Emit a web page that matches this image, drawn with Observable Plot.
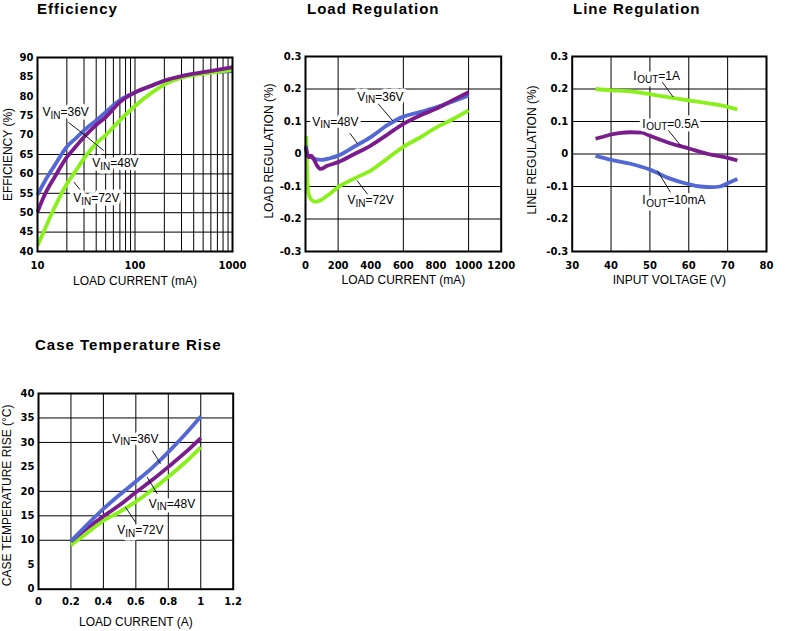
<!DOCTYPE html>
<html><head><meta charset="utf-8">
<script src="https://cdn.jsdelivr.net/npm/d3@7"></script>
<script src="https://cdn.jsdelivr.net/npm/@observablehq/plot@0.6"></script>
<style>
body{margin:0;background:#fff;}
#wrap{position:relative;width:800px;height:631px;overflow:hidden;background:#fff;}
.title{position:absolute;font-family:"Liberation Sans",Arial,sans-serif;font-weight:bold;font-size:15px;letter-spacing:1px;line-height:17px;white-space:nowrap;color:#000;}
.panel{position:absolute;}
.panel svg{display:block;max-width:none;}
</style></head><body>
<div id="wrap">
<div class="title" style="left:37px;top:0px">Efficiency</div>
<div class="title" style="left:307px;top:0px">Load Regulation</div>
<div class="title" style="left:573px;top:0px">Line Regulation</div>
<div class="title" style="left:35px;top:336px">Case Temperature Rise</div>
<div class="panel" id="p1" style="left:0px;top:30px"></div>
<div class="panel" id="p2" style="left:260px;top:30px"></div>
<div class="panel" id="p3" style="left:520px;top:30px"></div>
<div class="panel" id="p4" style="left:0px;top:360px"></div>
</div>
<script>
// ---------- DATA ----------
// Efficiency (%), load current (mA, log)
const effCurrent = [10,12,15,20,25,30,40,50,70,100,150,200,300,500,700,1000];
const eff36 = [54.6,58.3,62.2,67,69.3,71.2,73.8,75.9,79,81,82.8,84,85,86,86.3,86.5];
const eff48 = [50.2,54.9,59.2,64.3,67.2,69.5,72.6,74.6,78.5,81,82.8,84,85.2,86.2,86.8,87.5];
const eff72 = [41.5,46,51.4,57.4,61,64,67.8,70,73.8,77.5,81,83,84.8,85.8,86.3,86.8];
const effYTicks = [40,45,50,55,60,65,70,75,80,85,90];
const effXTicks = [10,100,1000];
const effGridX = [20,30,40,50,60,70,80,90,100,200,300,400,500,600,700,800,900];
const effGridY = [45,50,55,60,65];

// Load regulation (%), load current (mA)
const load36X = [2,10,30,60,100,150,200,300,400,500,600,700,800,900,1000];
const load36 = [0.026,0.0,-0.008,-0.016,-0.018,-0.013,-0.005,0.023,0.052,0.088,0.115,0.129,0.144,0.161,0.18];
const load48X = [2,10,20,35,50,70,92,130,200,300,400,500,600,700,800,900,1000];
const load48 = [0.02,0.0,-0.01,-0.005,-0.015,-0.035,-0.046,-0.037,-0.025,0.0,0.026,0.059,0.093,0.118,0.139,0.165,0.19];
const load72X = [5,8,12,20,35,60,90,150,200,300,400,500,600,700,800,900,1000];
const load72 = [0.055,-0.02,-0.09,-0.125,-0.14,-0.147,-0.143,-0.122,-0.102,-0.075,-0.051,-0.015,0.022,0.05,0.081,0.106,0.134];
const regYTicks = [-0.3,-0.2,-0.1,0,0.1,0.2,0.3];
const loadXTicks = [0,200,400,600,800,1000,1200];
const loadGridX = [200,600,1000];
const loadGridY = [-0.2,-0.1,0.1,0.2];

// Line regulation (%), input voltage (V)
const line1AX = [36,40,45,50,55,60,65,70,72.5];
const line1A = [0.2,0.196,0.193,0.184,0.174,0.165,0.156,0.145,0.137];
const line05AX = [36,38,40,42,45,48,50,55,60,65,70,72.5];
const line05A = [0.047,0.053,0.06,0.064,0.067,0.066,0.056,0.034,0.017,0.0,-0.012,-0.02];
const line10mAX = [36,40,45,50,55,60,63,66,68,70,72.5];
const line10mA = [-0.006,-0.018,-0.03,-0.048,-0.075,-0.093,-0.1,-0.102,-0.1,-0.09,-0.077];
const lineXTicks = [30,40,50,60,70,80];
const lineGridX = [40,50,60,70];
const lineGridY = [-0.1,0,0.1,0.2];

// Case temperature rise (°C), load current (A)
const tempCurrent = [0.2,0.3,0.4,0.5,0.6,0.7,0.8,0.9,1.0];
const temp36 = [9.8,13.2,16.4,19.3,22,24.8,28,31.5,35.3];
const temp48 = [9.8,12.5,14.9,17.2,19.8,22.3,25,27.8,30.9];
const temp72 = [9,11.5,14,15.8,17.9,20.3,23,25.8,29];
const tempYTicks = [0,5,10,15,20,25,30,35,40];
const tempXTicks = [0,0.2,0.4,0.6,0.8,1.0,1.2];
const tempGridX = [0.2,0.4,0.6,0.8,1.0];
const tempGridY = [10,15,20,30,35];

// Annotation anchors (data coordinates)
const effLabels = [
  {x:11.25,y:75.8,main:"V",sub:"IN",rest:"=36V"},
  {x:36.4,y:62.7,main:"V",sub:"IN",rest:"=48V"},
  {x:23.2,y:53.7,main:"V",sub:"IN",rest:"=72V"}];
const effLeaders = [
  {x1:20.7,y1:73.3,x2:30.5,y2:70.0},
  {x1:30.5,y1:70.0,x2:47.8,y2:66.0},
  {x1:23.6,y1:57.9,x2:28.7,y2:55.3}];
const loadLabels = [
  {x:317,y:0.175,main:"V",sub:"IN",rest:"=36V"},
  {x:41,y:0.098,main:"V",sub:"IN",rest:"=48V"},
  {x:257,y:-0.143,main:"V",sub:"IN",rest:"=72V"}];
const loadLeaders = [
  {x1:443,y1:0.156,x2:535,y2:0.102},
  {x1:272,y1:0.064,x2:317,y2:0.033},
  {x1:317,y1:-0.082,x2:382,y2:-0.125}];
const lineLabels = [
  {x:45.7,y:0.238,main:"I",sub:"OUT",rest:"=1A"},
  {x:48.0,y:0.093,main:"I",sub:"OUT",rest:"=0.5A"},
  {x:48.0,y:-0.143,main:"I",sub:"OUT",rest:"=10mA"}];
const lineLeaders = [
  {x1:53.2,y1:0.221,x2:56.0,y2:0.175},
  {x1:54.4,y1:0.078,x2:57.9,y2:0.026},
  {x1:51.9,y1:-0.051,x2:55.3,y2:-0.118}];
const tempLabels = [
  {x:0.454,y:30.76,main:"V",sub:"IN",rest:"=36V"},
  {x:0.680,y:17.46,main:"V",sub:"IN",rest:"=48V"},
  {x:0.485,y:12.0,main:"V",sub:"IN",rest:"=72V"}];
const tempLeaders = [
  {x1:0.701,y1:28.36,x2:0.752,y2:25.64},
  {x1:0.670,y1:22.9,x2:0.732,y2:19.5},
  {x1:0.536,y1:16.77,x2:0.598,y2:13.7}];

// ---------- STYLE ----------
const C_BLUE = "#5468d4", C_PURPLE = "#7b1c8d", C_GREEN = "#8af01c";
const fontAxis = "'Liberation Sans', Arial, sans-serif";
const fontTick = "'DejaVu Sans', sans-serif";
const regFmt = d => d === 0 ? "0" : d.toFixed(1);

function rows(xs, ys) { return xs.map((x, i) => ({x, y: ys[i]})); }
function curves(list, curve) {
  return list.map(([xs, ys, color]) => Plot.line(rows(xs, ys), {x: "x", y: "y", stroke: color, strokeWidth: 3.8, curve: curve || "monotone-x", strokeLinecap: "butt"}));
}
function grids(gx, gy) {
  return [
    Plot.gridX(gx, {stroke: "black", strokeOpacity: 1, strokeWidth: 1}),
    Plot.gridY(gy, {stroke: "black", strokeOpacity: 1, strokeWidth: 1})
  ];
}
function axes(xt, yt, xf, yf, xPad) {
  return [
    Plot.axisX(xt, {tickSize: 0, tickPadding: xPad, tickFormat: xf, fontSize: 10, fontWeight: "bold", fontFamily: fontTick, label: null}),
    Plot.axisY(yt, {tickSize: 0, tickPadding: 4, tickFormat: yf, fontSize: 10, fontWeight: "bold", fontFamily: fontTick, label: null})
  ];
}
function axisLabels(xl, yl, xdy, ydx, ydy) {
  return [
    Plot.text([xl], {text: d => d, frameAnchor: "bottom", dy: xdy, lineAnchor: "middle", fontSize: 12, fontFamily: fontAxis, fill: "black"}),
    Plot.text([yl], {text: d => d, frameAnchor: "left", rotate: -90, dx: ydx, dy: ydy, textAnchor: "middle", lineAnchor: "middle", fontSize: 12, fontFamily: fontAxis, fill: "black"})
  ];
}
function leaders(list) {
  return Plot.link(list, {x1: "x1", y1: "y1", x2: "x2", y2: "y2", stroke: "black", strokeWidth: 0.9});
}
function labels(list, mainW, subW) {
  const base = {x: "x", y: "y", textAnchor: "start", lineAnchor: "middle", fontFamily: fontAxis};
  const parts = [
    {text: "main", dx: 0, dy: 0, fontSize: 12},
    {text: "sub", dx: mainW, dy: 3, fontSize: 10},
    {text: "rest", dx: mainW + subW, dy: 0, fontSize: 12}
  ];
  const halos = parts.map(p => Plot.text(list, {...base, ...p, fill: "white", stroke: "white", strokeWidth: 7, strokeLinejoin: "round"}));
  const texts = parts.map(p => Plot.text(list, {...base, ...p, fill: "black"}));
  return [...halos, ...texts];
}
const style = {background: "white", color: "black", overflow: "visible"};

// ---------- PANEL 1: Efficiency ----------
document.getElementById("p1").append(Plot.plot({
  width: 260, height: 270, marginLeft: 37, marginRight: 28, marginTop: 27, marginBottom: 49,
  style,
  x: {type: "log", domain: [10, 1000], label: null},
  y: {domain: [40, 90], label: null},
  marks: [
    ...grids(effGridX, effGridY),
    ...curves([[effCurrent, eff36, C_BLUE], [effCurrent, eff72, C_GREEN], [effCurrent, eff48, C_PURPLE]]),
    leaders(effLeaders),
    ...labels(effLabels, 8, 10),
    Plot.frame({stroke: "black", strokeWidth: 2}),
    ...axes(effXTicks, effYTicks, d => String(d), d => String(d), 10),
    ...axisLabels("LOAD CURRENT (mA)", "EFFICIENCY (%)", 30, -29, 0)
  ]
}));

// ---------- PANEL 2: Load Regulation ----------
document.getElementById("p2").append(Plot.plot({
  width: 260, height: 270, marginLeft: 45, marginRight: 19.3, marginTop: 26, marginBottom: 49,
  style,
  x: {domain: [0, 1200], label: null},
  y: {domain: [-0.3, 0.3], label: null},
  marks: [
    ...grids(loadGridX, loadGridY),
    ...curves([[load72X, load72, C_GREEN], [load36X, load36, C_BLUE], [load48X, load48, C_PURPLE]]),
    leaders(loadLeaders),
    ...labels(loadLabels, 8, 10),
    Plot.frame({stroke: "black", strokeWidth: 2}),
    ...axes(loadXTicks, regYTicks, d => String(d), regFmt, 10),
    ...axisLabels("LOAD CURRENT (mA)", "LOAD REGULATION (%)", 29, -36, -3)
  ]
}));

// ---------- PANEL 3: Line Regulation ----------
document.getElementById("p3").append(Plot.plot({
  width: 280, height: 270, marginLeft: 51.7, marginRight: 34, marginTop: 26, marginBottom: 49,
  style,
  x: {domain: [30, 80], label: null},
  y: {domain: [-0.3, 0.3], label: null},
  marks: [
    ...grids(lineGridX, lineGridY),
    ...curves([[line1AX, line1A, C_GREEN], [line05AX, line05A, C_PURPLE], [line10mAX, line10mA, C_BLUE]]),
    leaders(lineLeaders),
    ...labels(lineLabels, 4, 21),
    Plot.frame({stroke: "black", strokeWidth: 2}),
    ...axes(lineXTicks, regYTicks, d => String(d), regFmt, 10),
    ...axisLabels("INPUT VOLTAGE (V)", "LINE REGULATION (%)", 29, -39.7, -4)
  ]
}));

// ---------- PANEL 4: Case Temperature Rise ----------
document.getElementById("p4").append(Plot.plot({
  width: 260, height: 271, marginLeft: 38, marginRight: 27.3, marginTop: 33, marginBottom: 42.3,
  style,
  x: {domain: [0, 1.2], label: null},
  y: {domain: [0, 40], label: null},
  marks: [
    ...grids(tempGridX, tempGridY),
    ...curves([[tempCurrent, temp72, C_GREEN], [tempCurrent, temp48, C_PURPLE], [tempCurrent, temp36, C_BLUE]]),
    leaders(tempLeaders),
    ...labels(tempLabels, 8, 10),
    Plot.frame({stroke: "black", strokeWidth: 2}),
    ...axes(tempXTicks, tempYTicks, d => String(+d.toFixed(1)), d => String(d), 9),
    ...axisLabels("LOAD CURRENT (A)", "CASE TEMPERATURE RISE (°C)", 33, -31, 4)
  ]
}));
</script>
</body></html>
